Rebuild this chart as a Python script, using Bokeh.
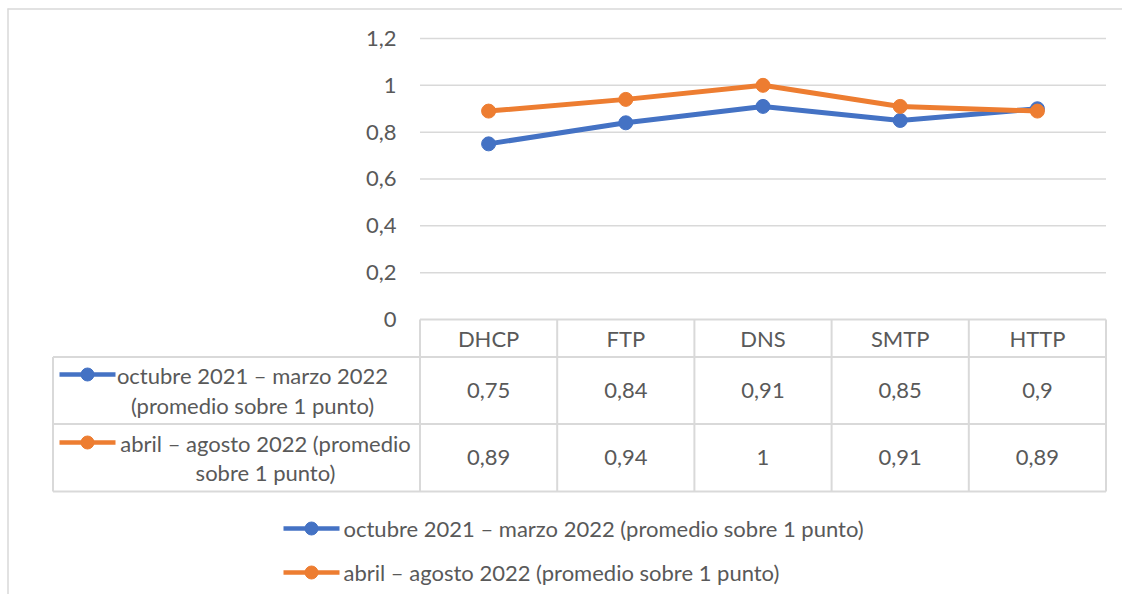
from bokeh.plotting import figure
from bokeh.models import Range1d
from bokeh.core.properties import value
from bokeh.embed import file_html
from bokeh.resources import INLINE

# ---------------- data ----------------
CATEGORIES = ["DHCP", "FTP", "DNS", "SMTP", "HTTP"]
SERIES_1_NAME = "octubre 2021 – marzo 2022 (promedio sobre 1 punto)"
SERIES_2_NAME = "abril – agosto 2022 (promedio sobre 1 punto)"
SERIES_1 = [0.75, 0.84, 0.91, 0.85, 0.90]
SERIES_2 = [0.89, 0.94, 1.00, 0.91, 0.89]
SERIES_1_WRAPPED = ["octubre 2021 – marzo 2022", "(promedio sobre 1 punto)"]
SERIES_2_WRAPPED = ["abril – agosto 2022 (promedio", "sobre 1 punto)"]
Y_TICKS = [0, 0.2, 0.4, 0.6, 0.8, 1.0, 1.2]
Y_TICK_LABELS = ["0", "0,2", "0,4", "0,6", "0,8", "1", "1,2"]

BLUE = "#4472C4"
ORANGE = "#ED7D31"
GRID = "#D9D9D9"
TEXT = "#595959"
FONT = value("Lato")
FS = "22px"

# ---------------- layout helpers (pixel position -> data coords) ----------------
X_LEFT_PX, X_STEP_PX = 419.5, 137.2
Y_ZERO_PX, Y_UNIT_PX = 319.0, 234.17


def dx(px):
    return -0.5 + (px - X_LEFT_PX) / X_STEP_PX


def dy(py):
    return (Y_ZERO_PX - py) / Y_UNIT_PX


W, H = 1122, 594
p = figure(width=W, height=H, output_backend="svg", toolbar_location=None,
           x_range=Range1d(dx(0), dx(W)), y_range=Range1d(dy(H), dy(0)),
           x_axis_location=None, y_axis_location=None, min_border=0,
           outline_line_color=None, background_fill_color="white")
p.grid.visible = False

idx = list(range(len(CATEGORIES)))
n = len(CATEGORIES)

# chart border (top and left visible)
p.segment(x0=[dx(7), dx(7.5)], y0=[dy(8.5), dy(8)], x1=[dx(W), dx(7.5)], y1=[dy(8.5), dy(H)],
          line_color=GRID, line_width=1.5)

# gridlines
p.segment(x0=[-0.5] * (len(Y_TICKS) - 1), x1=[n - 0.5] * (len(Y_TICKS) - 1),
          y0=Y_TICKS[1:], y1=Y_TICKS[1:], line_color=GRID, line_width=1.5)

# table lines
left_px = 52.5
row_top, row_mid, row_bot = 356.5, 423.5, 491.0
hx0 = [-0.5, dx(left_px), dx(left_px), dx(left_px)]
hy = [0, dy(row_top), dy(row_mid), dy(row_bot)]
p.segment(x0=hx0, x1=[n - 0.5] * 4, y0=hy, y1=hy, line_color=GRID, line_width=2)
vx = [k - 0.5 for k in range(n + 1)]
p.segment(x0=vx, x1=vx, y0=[0] * (n + 1), y1=[dy(row_bot)] * (n + 1), line_color=GRID, line_width=2)
p.segment(x0=[dx(left_px)], x1=[dx(left_px)], y0=[dy(row_top)], y1=[dy(row_bot)], line_color=GRID, line_width=2)

# y tick labels
p.text(x=[dx(396)] * len(Y_TICKS), y=Y_TICKS, text=Y_TICK_LABELS, text_align="right",
       text_baseline="middle", text_font=FONT, text_font_size=FS, text_color=TEXT)

# header
p.text(x=idx, y=[dy(338)] * n, text=CATEGORIES, text_align="center", text_baseline="middle",
       text_font=FONT, text_font_size=FS, text_color=TEXT)


def fmt(v):
    return f"{v:g}".replace(".", ",")


p.text(x=idx, y=[dy(390)] * n, text=[fmt(v) for v in SERIES_1], text_align="center",
       text_baseline="middle", text_font=FONT, text_font_size=FS, text_color=TEXT)
p.text(x=idx, y=[dy(457)] * n, text=[fmt(v) for v in SERIES_2], text_align="center",
       text_baseline="middle", text_font=FONT, text_font_size=FS, text_color=TEXT)

# table row labels
p.text(x=[dx(252)] * 2, y=[dy(375), dy(405)], text=SERIES_1_WRAPPED, text_align="center",
       text_baseline="middle", text_font=FONT, text_font_size=FS, text_color=TEXT)
p.text(x=[dx(265)] * 2, y=[dy(443), dy(472)], text=SERIES_2_WRAPPED, text_align="center",
       text_baseline="middle", text_font=FONT, text_font_size=FS, text_color=TEXT)


def key(x0px, x1px, ypx, color):
    p.line(x=[dx(x0px), dx(x1px)], y=[dy(ypx), dy(ypx)], line_color=color, line_width=4.5)
    p.scatter(x=[dx((x0px + x1px) / 2)], y=[dy(ypx)], size=13, color=color)


key(59, 115, 374, BLUE)
key(59, 115, 442, ORANGE)
key(283, 339, 528, BLUE)
key(283, 339, 572, ORANGE)

p.text(x=[dx(343)] * 2, y=[dy(528), dy(572)], text=[SERIES_1_NAME, SERIES_2_NAME], text_align="left",
       text_baseline="middle", text_font=FONT, text_font_size=FS, text_color=TEXT)

# data series
p.line(x=idx, y=SERIES_1, line_color=BLUE, line_width=5)
p.scatter(x=idx, y=SERIES_1, size=14, color=BLUE)
p.line(x=idx, y=SERIES_2, line_color=ORANGE, line_width=5)
p.scatter(x=idx, y=SERIES_2, size=14, color=ORANGE)

open("out.html", "w").write(file_html(p, INLINE))
